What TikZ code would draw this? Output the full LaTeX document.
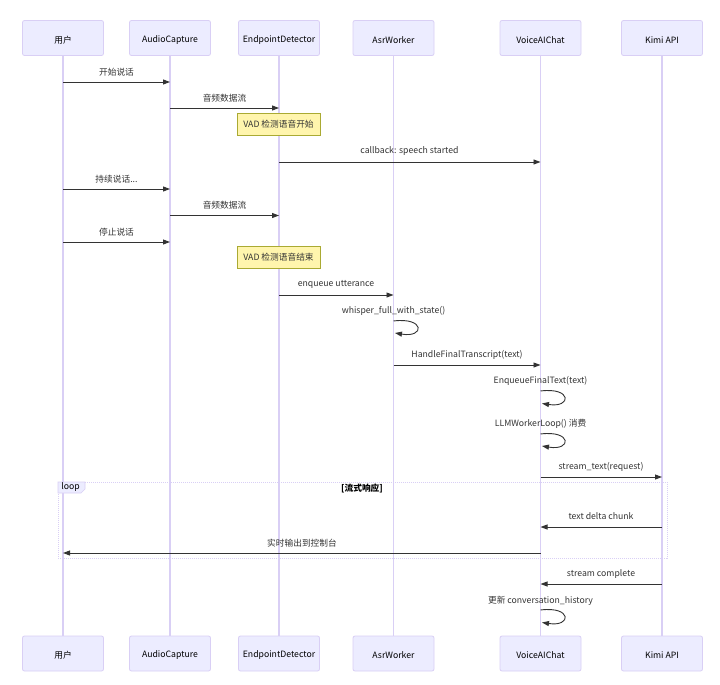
\documentclass[tikz,border=0pt]{standalone}
\usepackage{fontspec}
\setmainfont{Noto Sans CJK SC}
\usetikzlibrary{arrows.meta}
\definecolor{actfill}{HTML}{ECECFF}
\definecolor{actline}{HTML}{D9CFF5}
\definecolor{notefill}{HTML}{FFF5AD}
\definecolor{noteline}{HTML}{AAAA33}
\definecolor{msgc}{HTML}{333333}
\newcommand{\acttxt}[1]{\raisebox{-1.8pt}[\height][\depth]{#1}}
\begin{document}
\begin{tikzpicture}[x=1pt,y=-1pt,
 actor/.style={draw=actline, fill=actfill, line width=0.8pt, rounded corners=2pt, minimum width=81pt, minimum height=35pt, inner sep=0pt, font=\fontsize{8.7}{10}\selectfont, text=black},
 life/.style={draw=actline, line width=1.2pt},
 msg/.style={draw=msgc, line width=0.9pt, -{Triangle[length=7pt,width=5pt]}},
 lbl/.style={font=\fontsize{8.7}{10}\selectfont, text=msgc, inner sep=0pt},
 notebox/.style={draw=noteline, fill=notefill, line width=0.7pt, minimum width=83pt, minimum height=22pt, inner sep=0pt, font=\fontsize{8.7}{10}\selectfont, text=msgc},
 frame/.style={draw=actline, line width=0.7pt, dash pattern=on 1pt off 1pt}]
\fill[white] (0,0) rectangle (720,685);
\useasboundingbox (0,0) rectangle (720,685);
% actors top
\node[actor] (t1) at (63,38) {\acttxt{用户}};
\node[actor] (t2) at (170,38) {\acttxt{AudioCapture}};
\node[actor] (t3) at (279,38) {\acttxt{EndpointDetector}};
\node[actor] (t4) at (393.5,38) {\acttxt{AsrWorker}};
\node[actor] (t5) at (540.5,38) {\acttxt{VoiceAIChat}};
\node[actor] (t6) at (662,38) {\acttxt{Kimi API}};
% actors bottom
\node[actor] (b1) at (63,653.5) {\acttxt{用户}};
\node[actor] (b2) at (170,653.5) {\acttxt{AudioCapture}};
\node[actor] (b3) at (279,653.5) {\acttxt{EndpointDetector}};
\node[actor] (b4) at (393.5,653.5) {\acttxt{AsrWorker}};
\node[actor] (b5) at (540.5,653.5) {\acttxt{VoiceAIChat}};
\node[actor] (b6) at (662,653.5) {\acttxt{Kimi API}};
% lifelines
\foreach \i in {1,...,6} { \draw[life] (t\i.south) -- (b\i.north); }
% loop frame
\draw[frame] (58,482) rectangle (667,558);
\draw[draw=actline, fill=actfill, line width=0.6pt] (58,482) -- (85,482) -- (85,489) -- (81,493) -- (58,493) -- cycle;
\node[lbl, text=black] (looplbl) at (70.5,487.5) {loop};
\node[lbl, text=black, font=\fontsize{8.7}{10}\selectfont\bfseries] (loopcond) at (362,488) {[流式响应]};
% coordinates
\coordinate (m1s) at (63,82);   \coordinate (m1e) at (170,82);
\coordinate (m2s) at (170,108); \coordinate (m2e) at (279,108);
\coordinate (m4s) at (279,162); \coordinate (m4e) at (540.5,162);
\coordinate (m5s) at (63,189);  \coordinate (m5e) at (170,189);
\coordinate (m6s) at (170,215.5); \coordinate (m6e) at (279,215.5);
\coordinate (m7s) at (63,242);  \coordinate (m7e) at (170,242);
\coordinate (m9s) at (279,295); \coordinate (m9e) at (393.5,295);
\coordinate (m10s) at (393.5,321); \coordinate (m10e) at (395,333);
\coordinate (m11s) at (393.5,365); \coordinate (m11e) at (540.5,365);
\coordinate (m12s) at (540.5,391); \coordinate (m12e) at (542,403.5);
\coordinate (m13s) at (540.5,434); \coordinate (m13e) at (542,446);
\coordinate (m14s) at (540.5,477); \coordinate (m14e) at (662,477);
\coordinate (m16s) at (662,527); \coordinate (m16e) at (540.5,527);
\coordinate (m17s) at (540.5,553); \coordinate (m17e) at (63,553);
\coordinate (m18s) at (662,584); \coordinate (m18e) at (540.5,584);
\coordinate (m19s) at (540.5,610); \coordinate (m19e) at (542,622.5);
% notes
\node[notebox] (n1) at (278.5,124) {VAD 检测语音开始};
\node[notebox] (n2) at (278.5,257.5) {VAD 检测语音结束};
% messages
\draw[msg] (m1s) -- (m1e); \node[lbl] (l1) at (116.5,72) {开始说话};
\draw[msg] (m2s) -- (m2e); \node[lbl] (l2) at (224.5,98) {音频数据流};
\draw[msg] (m4s) -- (m4e); \node[lbl] (l4) at (409.5,151.5) {callback: speech started};
\draw[msg] (m5s) -- (m5e); \node[lbl] (l5) at (116.5,179) {持续说话...};
\draw[msg] (m6s) -- (m6e); \node[lbl] (l6) at (224.5,205.5) {音频数据流};
\draw[msg] (m7s) -- (m7e); \node[lbl] (l7) at (116.5,232) {停止说话};
\draw[msg] (m9s) -- (m9e); \node[lbl] (l9) at (336,284.5) {enqueue utterance};
\draw[msg] (m10s) .. controls (425,317) and (425,338) .. (m10e); \node[lbl] (l10) at (393.5,311) {whisper\_full\_with\_state()};
\draw[msg] (m11s) -- (m11e); \node[lbl] (l11) at (467,354.5) {HandleFinalTranscript(text)};
\draw[msg] (m12s) .. controls (572,387) and (572,408) .. (m12e); \node[lbl] (l12) at (540.5,381) {EnqueueFinalText(text)};
\draw[msg] (m13s) .. controls (572,430) and (572,451) .. (m13e); \node[lbl] (l13) at (540.5,424) {LLMWorkerLoop() 消费};
\draw[msg] (m14s) -- (m14e); \node[lbl] (l14) at (601,466.5) {stream\_text(request)};
\draw[msg] (m16s) -- (m16e); \node[lbl] (l16) at (601,516.5) {text delta chunk};
\draw[msg] (m17s) -- (m17e); \node[lbl] (l17) at (302,543) {实时输出到控制台};
\draw[msg] (m18s) -- (m18e); \node[lbl] (l18) at (601,574) {stream complete};
\draw[msg] (m19s) .. controls (572,606) and (572,627) .. (m19e); \node[lbl] (l19) at (540.5,600.5) {更新 conversation\_history};
\end{tikzpicture}
\end{document}
